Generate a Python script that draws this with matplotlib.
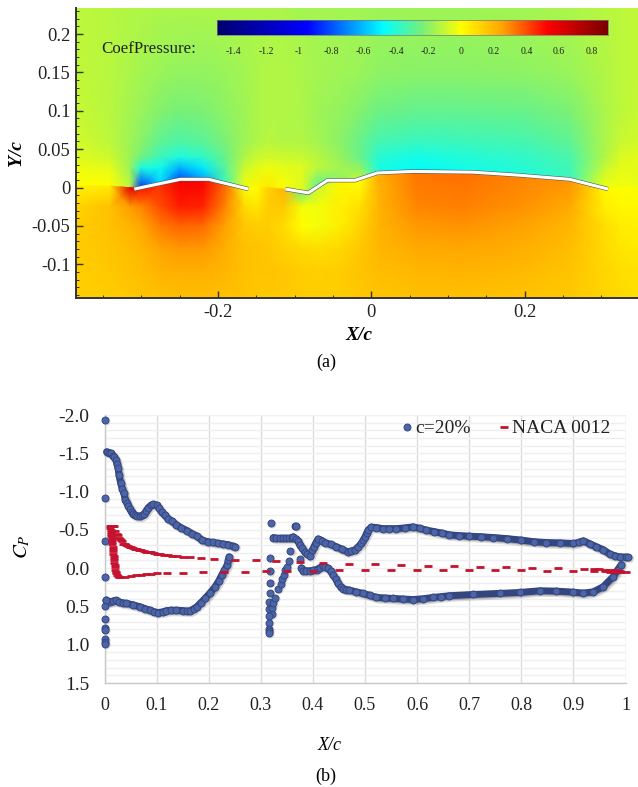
import numpy as np
import matplotlib
matplotlib.use("Agg")
import matplotlib.pyplot as plt
from matplotlib.colors import LinearSegmentedColormap, Normalize
from matplotlib.lines import Line2D
from matplotlib.ticker import MultipleLocator, FixedLocator

plt.rcParams['font.family'] = ['Liberation Serif', 'DejaVu Serif']
plt.rcParams['mathtext.fontset'] = 'stix'

# ---------- panel (a) data ----------
field_x = [-0.385,-0.34,-0.315,-0.30,-0.275,-0.25,-0.22,-0.19,-0.165,-0.15,-0.135,-0.115,-0.09,-0.07,-0.04,-0.015,0.01,0.06,0.12,0.2,0.26,0.305,0.325,0.348]
surface_y = [.003,.002,0,0,.0055,.0107,.0107,.005,0,0,0,-.002,-.006,.001,.0094,.0094,.019,.021,.0205,.0155,.0107,-.002,0,.002]
row_y_upper = [0.234, 0.15, 0.1, 0.06, 0.04, 0.026]
row_y_lower = [-0.025, -0.05, -0.08, -0.11, -0.144]
cp_y234 = [-.12,-.13,-.14,-.14,-.15,-.15,-.15,-.15,-.15,-.15,-.15,-.15,-.16,-.16,-.16,-.16,-.17,-.17,-.17,-.16,-.15,-.13,-.12,-.11]
cp_y150 = [-.11,-.13,-.15,-.16,-.18,-.19,-.19,-.18,-.16,-.15,-.14,-.14,-.15,-.16,-.17,-.18,-.20,-.21,-.21,-.20,-.18,-.14,-.12,-.11]
cp_y100 = [-.10,-.13,-.16,-.18,-.22,-.24,-.23,-.20,-.17,-.15,-.14,-.14,-.15,-.17,-.19,-.22,-.26,-.28,-.28,-.27,-.23,-.15,-.12,-.10]
cp_y060 = [-.08,-.12,-.17,-.21,-.29,-.32,-.30,-.23,-.17,-.15,-.13,-.14,-.14,-.16,-.21,-.27,-.34,-.37,-.36,-.34,-.29,-.15,-.10,-.08]
cp_y040 = [-.06,-.09,-.17,-.25,-.36,-.42,-.38,-.27,-.14,-.10,-.08,-.09,-.10,-.13,-.19,-.27,-.40,-.44,-.41,-.38,-.33,-.14,-.07,-.05]
cp_y026 = [-.03,-.05,-.18,-.42,-.45,-.62,-.52,-.30,-.09,-.06,-.03,-.05,-.06,-.12,-.16,-.20,-.43,-.47,-.44,-.40,-.35,-.10,-.05,-.05]
cp_suction = [.0,.0,-.12,-.85,-.55,-.80,-.65,-.35,-.03,.02,.06,.0,-.06,-.30,-.20,-.10,-.42,-.50,-.46,-.42,-.36,-.02,-.02,-.04]
cp_pressure = [.03,.06,.60,.50,.45,.55,.55,.35,-.02,.0,.12,.20,-.25,-.10,.02,.0,.22,.33,.34,.30,.28,.02,.0,-.01]
cp_ym025 = [.12,.17,.26,.30,.40,.48,.47,.30,.10,.07,.14,.15,-.02,-.02,.04,.08,.21,.30,.31,.28,.23,.04,.02,.02]
cp_ym050 = [.14,.17,.21,.24,.32,.36,.35,.25,.15,.14,.14,.10,.0,-.02,.05,.12,.21,.27,.28,.25,.20,.09,.05,.04]
cp_ym080 = [.14,.16,.18,.20,.25,.27,.27,.22,.17,.16,.15,.13,.10,.09,.11,.15,.20,.23,.24,.22,.18,.10,.07,.06]
cp_ym110 = [.13,.15,.17,.18,.21,.22,.22,.20,.17,.16,.16,.15,.14,.13,.14,.16,.18,.20,.21,.19,.16,.11,.09,.08]
cp_ym144 = [.13,.14,.15,.16,.17,.18,.18,.17,.16,.15,.15,.15,.14,.14,.14,.15,.16,.17,.17,.16,.15,.12,.10,.09]
front_x = [-0.309,-0.249,-0.212,-0.160]
front_y = [-0.002,0.0107,0.0107,-0.002]
rear_x = [-0.112,-0.082,-0.057,-0.021,0.008,0.055,0.133,0.194,0.259,0.309]
rear_y = [-0.002,-0.007,0.0094,0.0094,0.019,0.021,0.020,0.016,0.0107,-0.002]
cbar_ticks = [-1.4,-1.2,-1,-0.8,-0.6,-0.4,-0.2,0,0.2,0.4,0.6,0.8]
cbar_levels = [-1.5,-0.95,-0.48,-0.24,0.0,0.25,0.53,0.9]
cbar_colors = ['#00006e','#0000ff','#00ffff','#78f078','#ffff00','#ffa500','#ff0000','#780000']

# ---------- panel (b) data ----------
le_x = [0,0,0,.001,0,.003,0,0,.001,0,.001,.001]
le_cp = [-1.94,-.92,-.35,.12,.49,.42,.67,.78,.81,.92,.96,.99]
fu_x = [.004,.008,.012,.016,.019,.022,.024,.026,.028,.031,.034,.037,.04,.043,.046,.049,.052,.055,.058,.063,.068,.072,.076,.08,.084,.089,.094,.1,.105,.11,.116,.122,.13,.138,.146,.158,.168,.177,.187,.198,.209,.218,.228,.238,.247,.25]
fu_cp = [-1.52,-1.51,-1.50,-1.47,-1.45,-1.41,-1.36,-1.31,-1.21,-1.11,-1.04,-.98,-.89,-.85,-.81,-.77,-.73,-.71,-.69,-.68,-.675,-.69,-.705,-.75,-.79,-.82,-.835,-.82,-.78,-.73,-.69,-.645,-.61,-.565,-.53,-.49,-.45,-.42,-.365,-.345,-.335,-.325,-.315,-.305,-.285,-.28]
fl_x = [.003,.01,.016,.022,.028,.035,.042,.055,.068,.078,.087,.095,.103,.112,.119,.128,.138,.15,.158,.164,.171,.177,.185,.193,.203,.212,.219,.225,.23,.235,.238,.239]
fl_cp = [.42,.44,.43,.42,.44,.455,.46,.48,.505,.53,.55,.57,.58,.57,.555,.55,.55,.555,.56,.56,.53,.505,.45,.395,.32,.245,.17,.09,.03,-.037,-.10,-.148]
rs_x = [.32,.365,.368,.317,.317,.317,.317,.316,.316,.321,.316,.316,.316,.316,.316,.321,.324,.327,.333,.338,.341,.344,.347,.35,.354,.357,.375]
rs_cp = [-.595,-.553,-.553,-.126,.035,.188,.33,.44,.535,.60,.627,.71,.79,.82,.85,.52,.45,.396,.275,.208,.148,.09,.03,-.017,-.095,-.226,-.117]
ru_x = [.324,.33,.336,.342,.348,.354,.359,.362,.367,.372,.375,.38,.384,.389,.394,.399,.402,.405,.41,.417,.423,.434,.445,.456,.467,.474,.48,.487,.493,.497,.5,.503,.506,.512,.522,.534,.547,.56,.576,.592,.605,.617,.632,.647,.662,.68,.7,.723,.746,.773,.8,.824,.848,.874,.9,.91,.919,.932,.944,.957,.97,.98,.989,1.0,1.005]
ru_cp = [-.399,-.39,-.39,-.39,-.39,-.39,-.39,-.41,-.38,-.35,-.30,-.26,-.213,-.185,-.161,-.235,-.28,-.322,-.382,-.36,-.334,-.31,-.279,-.245,-.213,-.225,-.235,-.28,-.322,-.37,-.409,-.455,-.497,-.536,-.53,-.516,-.516,-.516,-.525,-.539,-.52,-.497,-.478,-.458,-.435,-.425,-.418,-.41,-.40,-.385,-.366,-.345,-.334,-.33,-.322,-.335,-.357,-.315,-.279,-.24,-.183,-.16,-.147,-.145,-.143]
rl_x = [.378,.381,.387,.394,.40,.407,.413,.419,.424,.429,.434,.439,.444,.448,.453,.458,.464,.47,.483,.496,.509,.522,.538,.554,.573,.592,.611,.63,.646,.662,.708,.759,.797,.835,.867,.90,.919,.938,.957,.976,.985,.992]
rl_cp = [-.004,.035,.035,.035,.03,.018,-.005,-.026,-.015,.004,.04,.092,.14,.20,.24,.266,.28,.287,.31,.33,.355,.383,.39,.396,.403,.41,.40,.383,.372,.36,.344,.33,.318,.296,.30,.314,.326,.309,.244,.113,.02,-.047]
naca_le_x = [.010,.013,.016,.019,.011,.012,.012,.013,.013,.014,.014,.015,.015,.016,.016,.017,.017,.018,.018,.019,.019,.020,.020,.021,.022,.023,.024,.026,.028]
naca_le_cp = [-.55,-.55,-.55,-.55,-.525,-.50,-.475,-.45,-.425,-.40,-.37,-.34,-.31,-.28,-.25,-.22,-.19,-.16,-.13,-.10,-.07,-.04,-.01,.02,.045,.065,.085,.105,.12]
naca_u_x = [.021,.024,.026,.028,.030,.032,.034,.036,.039,.042,.045,.048,.051,.055,.058,.062,.066,.07,.075,.08,.085,.09,.095,.10,.107,.115,.122,.13,.14,.15,.165,.185,.21,.25,.29,.33,.375,.42,.47,.52,.57,.62,.67,.72,.77,.82,.87,.92,.94,.95,.96,.97,.98,.99,1.0]
naca_u_cp = [-.49,-.45,-.43,-.40,-.385,-.37,-.35,-.32,-.31,-.30,-.29,-.28,-.27,-.26,-.25,-.245,-.24,-.235,-.225,-.215,-.21,-.205,-.195,-.185,-.18,-.175,-.17,-.16,-.155,-.15,-.14,-.13,-.125,-.11,-.10,-.09,-.083,-.07,-.06,-.05,-.04,-.03,-.025,-.015,-.01,-.004,.003,.008,.012,.015,.02,.025,.03,.04,.05]
naca_l_x = [.03,.04,.05,.06,.07,.08,.09,.10,.12,.15,.19,.23,.27,.31,.35,.40,.45,.50,.55,.60,.65,.70,.75,.80,.85,.90,.94,.96,.97,.98,.99]
naca_l_cp = [.115,.11,.10,.095,.09,.08,.075,.068,.065,.06,.055,.05,.045,.04,.035,.032,.03,.028,.027,.026,.026,.026,.03,.03,.033,.035,.04,.042,.045,.047,.05]
cp_ticks = [-2.0,-1.5,-1.0,-0.5,0.0,0.5,1.0,1.5]
xc_labels = ['0','0.1','0.2','0.3','0.4','0.5','0.6','0.7','0.8','0.9','1']

W, H = 638, 787
fig = plt.figure(figsize=(W/100, H/100), dpi=100)
def box(l, t, r, b):
    return [l/W, 1-b/H, (r-l)/W, (b-t)/H]
def ftext(px, py, s, **kw):
    kw.setdefault('ha', 'center'); kw.setdefault('va', 'center')
    fig.text(px/W, 1-py/H, s, **kw)

# ---------- panel (a) ----------
ax = fig.add_axes(box(76, 8, 638, 298))
vmin, vmax = cbar_levels[0], cbar_levels[-1]
cmap = LinearSegmentedColormap.from_list('cp', [((v-vmin)/(vmax-vmin), c) for v, c in zip(cbar_levels, cbar_colors)], N=512)
norm = Normalize(vmin, vmax)
fx = np.array(field_x); sy = np.array(surface_y)
Yrows = [np.full_like(fx, v) for v in row_y_upper] + [sy+0.0004, sy-0.0004] + [np.full_like(fx, v) for v in row_y_lower]
Y = np.array(Yrows)
X = np.tile(fx, (Y.shape[0], 1))
Z = np.array([cp_y234, cp_y150, cp_y100, cp_y060, cp_y040, cp_y026, cp_suction, cp_pressure, cp_ym025, cp_ym050, cp_ym080, cp_ym110, cp_ym144])
ax.pcolormesh(X, Y, Z, cmap=cmap, norm=norm, shading='gouraud', zorder=1)
for xs, ys in ((front_x, front_y), (rear_x, rear_y)):
    ax.plot(xs, ys, color='#555555', lw=3.0, solid_capstyle='butt', zorder=3)
    ax.plot(xs, ys, color='white', lw=2.2, solid_capstyle='butt', zorder=4)
ax.set_xlim(-0.385, 0.348)
ax.set_ylim(-0.144, 0.234)
for s in ('top', 'right'):
    ax.spines[s].set_visible(False)
for s in ('left', 'bottom'):
    ax.spines[s].set_linewidth(1.4); ax.spines[s].set_color('#333333'); ax.spines[s].set_zorder(6)
ax.xaxis.set_major_locator(FixedLocator([-0.2, 0, 0.2]))
ax.xaxis.set_minor_locator(MultipleLocator(0.05))
ax.yaxis.set_major_locator(FixedLocator([-0.1, -0.05, 0, 0.05, 0.1, 0.15, 0.2]))
ax.yaxis.set_minor_locator(MultipleLocator(0.01))
ax.set_xticklabels(['-0.2', '0', '0.2'])
ax.set_yticklabels(['-0.1', '-0.05', '0', '0.05', '0.1', '0.15', '0.2'])
ax.tick_params(which='major', direction='in', length=5, width=1, color='#333333', labelsize=13.3, pad=4, labelcolor='#222222')
ax.tick_params(which='minor', direction='in', length=2.5, width=0.7, color='#333333')
ftext(359, 335, 'X/c', fontsize=14, fontweight='bold', fontstyle='italic')
ftext(326, 362, '(a)', fontsize=13)
ftext(17, 153, 'Y/c', fontsize=14, fontweight='bold', fontstyle='italic', rotation=90)
ftext(101, 49, 'CoefPressure:', fontsize=12.2, ha='left', color='#222222')

cax = fig.add_axes(box(217, 20, 608, 35))
cax.imshow(np.linspace(vmin, vmax, 512)[None, :], aspect='auto', cmap=cmap, norm=norm, extent=[vmin, vmax, 0, 1])
cax.set_xticks([]); cax.set_yticks([])
for s in cax.spines.values():
    s.set_linewidth(0.5); s.set_color('#777777')
for t in cbar_ticks:
    ftext(217 + (t-vmin)/(vmax-vmin)*391, 52, f'{t:g}', fontsize=7, color='#222222')

# ---------- panel (b) ----------
bx = fig.add_axes(box(104.5, 415, 625.5, 683))
bx.set_xlim(0, 1)
bx.set_ylim(1.5, -2.0)
bx.yaxis.set_minor_locator(MultipleLocator(0.1))
bx.set_xticks(np.arange(11)/10, xc_labels)
bx.set_yticks(cp_ticks, [f'{v:.1f}' for v in cp_ticks])
bx.grid(which='minor', axis='y', color='#efefef', lw=1)
bx.grid(which='major', axis='y', color='#efefef', lw=1)
bx.grid(which='major', axis='x', color='#dcdcdc', lw=1)
bx.set_axisbelow(True)
for s in ('top', 'right'):
    bx.spines[s].set_visible(False)
for s in ('left', 'bottom'):
    bx.spines[s].set_color('#c8c8c8'); bx.spines[s].set_linewidth(1)
bx.tick_params(which='both', length=0)
bx.tick_params(axis='x', labelsize=13, pad=10, labelcolor='#222222')
bx.tick_params(axis='y', labelsize=14, pad=11, labelcolor='#222222')

BLUE = '#4c65a8'; EDGE = '#34467f'
chains = [(fu_x, fu_cp), (fl_x, fl_cp), (ru_x, ru_cp), (rl_x, rl_cp)]
for cx, cy in chains:
    bx.plot(np.array(cx)+0.003, np.array(cy)+0.02, color='#000000', lw=6.5, alpha=0.14, solid_capstyle='round', clip_on=False, zorder=2)
    bx.plot(np.array(cx)+0.0015, np.array(cy)+0.01, color='#000000', lw=5.5, alpha=0.22, solid_capstyle='round', clip_on=False, zorder=2)
for cx, cy in [(le_x, le_cp), (rs_x, rs_cp)]:
    bx.scatter(np.array(cx)+0.002, np.array(cy)+0.012, s=34, color='black', alpha=0.12, linewidths=0, clip_on=False, zorder=2)
for cx, cy in chains:
    bx.plot(cx, cy, color=EDGE, lw=5.0, solid_capstyle='round', clip_on=False, zorder=3)
for cx, cy in chains + [(le_x, le_cp), (rs_x, rs_cp)]:
    bx.plot(cx, cy, ls='none', marker='o', ms=5.0, mfc=BLUE, mec=EDGE, mew=0.7, clip_on=False, zorder=4)
RED = '#c4122f'
for cx, cy in [(naca_le_x, naca_le_cp), (naca_u_x, naca_u_cp), (naca_l_x, naca_l_cp)]:
    bx.plot(cx, cy, ls='none', marker='_', ms=6, mew=2.0, color=RED, clip_on=False, zorder=5)
handles = [Line2D([], [], ls='none', marker='o', ms=5, mfc=BLUE, mec=EDGE, mew=0.7),
           Line2D([], [], ls='none', marker='_', ms=6, mew=2.0, color=RED)]
bx.legend(handles, ['c=20%', 'NACA 0012'], ncol=2, frameon=False, fontsize=14,
          loc='upper right', bbox_to_anchor=(0.981, 1.0), borderaxespad=0, borderpad=0.25,
          handlelength=0.6, handletextpad=0.15, columnspacing=1.39, labelcolor='#222222')
ftext(22, 547, r'$C_P$', fontsize=15, rotation=90)
ftext(330, 745, 'X/c', fontsize=13, fontstyle='italic')
ftext(326, 776, '(b)', fontsize=13)

fig.savefig('out.png', dpi=100)
